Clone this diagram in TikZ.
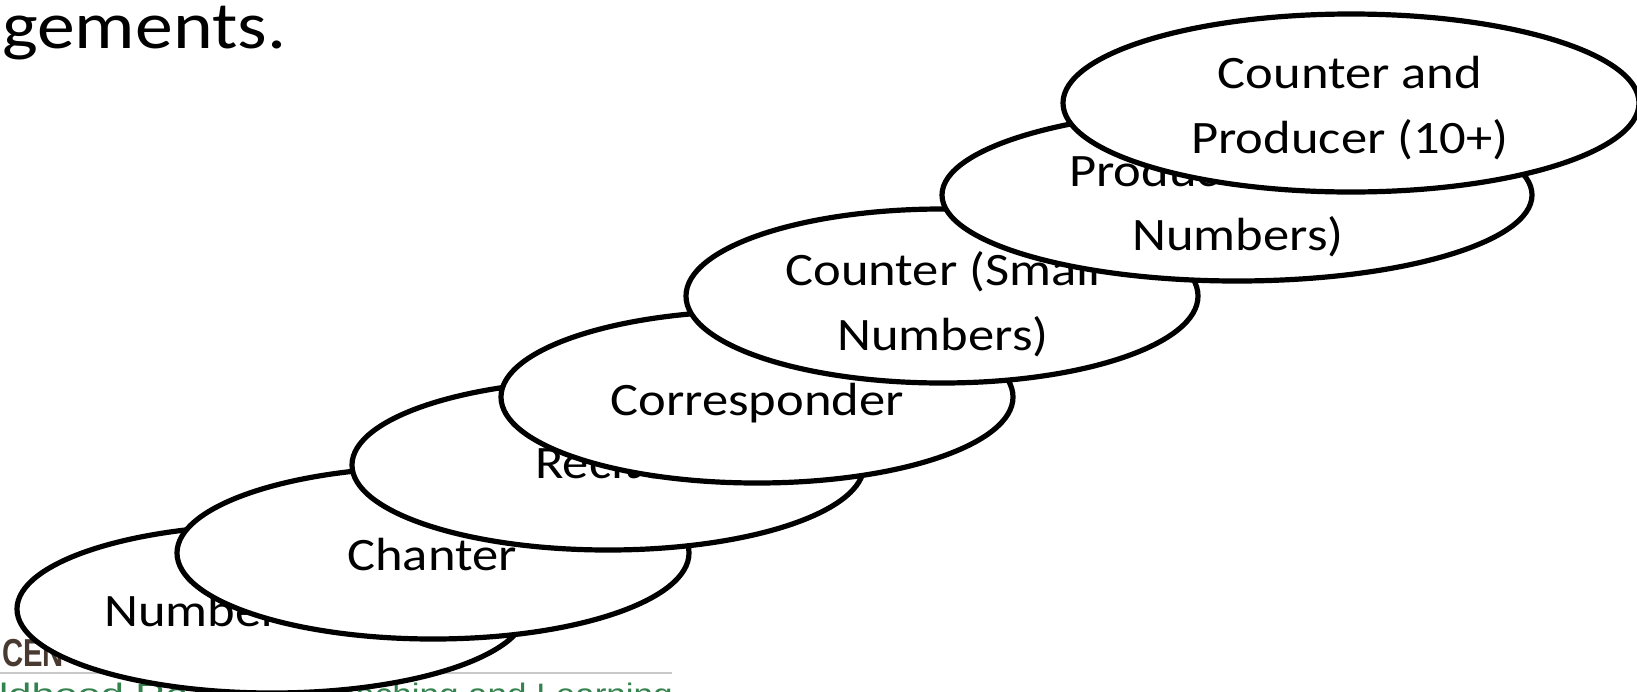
\documentclass[tikz,border=0pt]{standalone}
\usepackage{fontspec}
\setmainfont{Carlito}[FakeStretch=1.13]
\newfontfamily\footfont{Liberation Sans}[FakeStretch=1.13]
\newfontfamily\footwide{Liberation Sans}[FakeStretch=1.34]
\newfontfamily\cenfont{Liberation Sans}[FakeStretch=0.75]
\usetikzlibrary{shapes.geometric}
\definecolor{ecgreen}{RGB}{52,130,78}
\definecolor{cenbrown}{RGB}{72,58,48}
\definecolor{rulegray}{RGB}{200,200,200}
\tikzset{
  oval/.style={draw=black, fill=white, line width=5.2pt, ellipse, inner sep=0pt},
  lbl/.style={anchor=base, inner sep=0pt, font=\fontsize{46.5}{65}\selectfont},
  foot/.style={inner sep=0pt, text=ecgreen},
}
\begin{document}
\begin{tikzpicture}[x=1pt,y=-1pt]
\useasboundingbox (0,0) rectangle (1637,691);
% background slide text
\node[anchor=base west, inner sep=0pt, font=\fontsize{67}{72}\selectfont] (title) at (2,48) {gements.};
\node[anchor=base west, inner sep=0pt, font=\cenfont\bfseries\fontsize{39}{42}\selectfont, text=cenbrown] (cen) at (2,666) {CEN};
\draw[rulegray, line width=1.5pt] (0,673) -- (672,673);
\node[foot, anchor=base west, font=\footwide\fontsize{31}{34}\selectfont] (foot1) at (-1,705) {ldhood Re};
\node[foot, anchor=base east, font=\footfont\fontsize{31}{34}\selectfont] (foot2) at (673,705) {eaching and Learning};
% staircase of ovals
\node[oval, minimum width=510pt, minimum height=168pt] (e1) at (272,609) {};
\node[lbl, anchor=base west] (t1) at (104,626) {Number};
\node[oval, minimum width=512pt, minimum height=172pt] (e2) at (433,553) {};
\node[lbl] (t2) at (432,570) {Chanter};
\node[oval, minimum width=512pt, minimum height=170pt] (e3) at (608,465) {};
\node[lbl] (t3) at (610,478) {Reciter};
\node[oval, minimum width=512pt, minimum height=172pt] (e4) at (757,397) {};
\node[lbl] (t4) at (757,415) {Corresponder};
\node[oval, minimum width=512pt, minimum height=174pt] (e5) at (942,296) {};
\node[lbl] (t5a) at (943,285) {Counter (Small};
\node[lbl] (t5b) at (943,350) {Numbers)};
\node[oval, minimum width=590pt, minimum height=172pt] (e6) at (1237,195) {};
\node[lbl] (t6a) at (1238,186) {Producer (Small};
\node[lbl] (t6b) at (1238,250) {Numbers)};
\node[oval, minimum width=576pt, minimum height=178pt] (e7) at (1351,103) {};
\node[lbl] (t7a) at (1350,88) {Counter and};
\node[lbl] (t7b) at (1350,153) {Producer (10+)};
\end{tikzpicture}
\end{document}
